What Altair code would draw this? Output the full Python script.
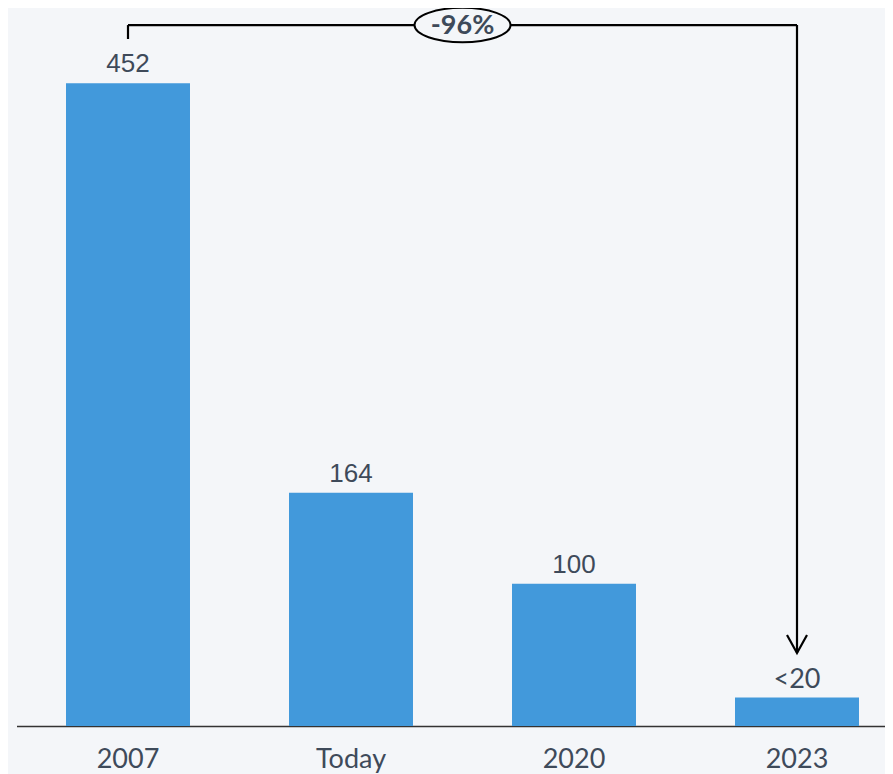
import altair as alt
import pandas as pd

categories = ["2007", "Today", "2020", "2023"]
values = [452, 164, 100, 20]
labels = ["452", "164", "100", "<20"]
label_fonts = ["num", "num", "num", "geo"]

bracket_label = "-96%"
bracket_top = 493.0
bracket_left_end = 483.2
arrow_tip = 51.3

BG = "#f4f6f9"
BAR = "#4299db"
TXT = "#3e4a5a"

df = pd.DataFrame({"cat": categories, "val": values, "lab": labels, "ft": label_fonts})

XR = [0, 892]
xband = alt.X("cat:N", sort=categories,
              scale=alt.Scale(range=XR, paddingInner=0.444, paddingOuter=0.222),
              axis=alt.Axis(title=None, ticks=False, labelAngle=0, labelFont="Lato",
                            labelFontSize=27, labelColor=TXT, labelPadding=20,
                            domainColor="#333333", domainWidth=1.5, grid=False))
yscale = alt.Scale(domain=[0, 505], nice=False, zero=True)
ycode = alt.Y("val:Q", scale=yscale, axis=None)

bars = alt.Chart(df).mark_bar(color=BAR).encode(x=xband, y=ycode)

num_text = alt.Chart(df).transform_filter("datum.ft == 'num'").mark_text(
    font="Liberation Sans", fontSize=26, color=TXT, baseline="alphabetic", dy=-11
).encode(x=alt.X("cat:N", sort=categories), y=ycode, text="lab:N")

geo_text = alt.Chart(df).transform_filter("datum.ft == 'geo'").mark_text(
    font="Lato", fontSize=27, color=TXT, baseline="alphabetic", dy=-10
).encode(x=alt.X("cat:N", sort=categories), y=ycode, text="lab:N")

base = alt.layer(bars, num_text, geo_text)

# annotation layer on a linear position scale (band centres = index)
xl = alt.Scale(domain=[-0.5, 3.5], range=XR, nice=False, zero=False)
n = len(categories) - 1
segs = pd.DataFrame({
    "x": [0, 0, n],
    "x2": [0, n, n],
    "y": [bracket_left_end, bracket_top, bracket_top],
    "y2": [bracket_top, bracket_top, arrow_tip],
})
rules = alt.Chart(segs).mark_rule(color="black", strokeWidth=2.2).encode(
    x=alt.X("x:Q", scale=xl, axis=None), x2="x2:Q",
    y=alt.Y("y:Q", scale=yscale, axis=None), y2="y2:Q")

tip = pd.DataFrame({"x": [n], "y": [arrow_tip]})
arrow = alt.Chart(tip).mark_point(
    shape="M -1 -1.8 L 0 0 L 1 -1.8", filled=False, color="black",
    strokeWidth=2.2, size=400, opacity=1, strokeJoin="miter"
).encode(x=alt.X("x:Q", scale=xl, axis=None), y=alt.Y("y:Q", scale=yscale, axis=None))

mid = pd.DataFrame({"x": [n / 2], "y": [bracket_top], "t": [bracket_label]})
ellipse = alt.Chart(mid).mark_point(
    shape="M -1 0 A 1 0.36 0 1 0 1 0 A 1 0.36 0 1 0 -1 0",
    filled=True, fill=BG, stroke="black", strokeWidth=2, size=9216, opacity=1
).encode(x=alt.X("x:Q", scale=xl, axis=None), y=alt.Y("y:Q", scale=yscale, axis=None))
etext = alt.Chart(mid).mark_text(
    font="Lato", fontWeight="bold", fontSize=27, color=TXT, baseline="middle", dy=1
).encode(x=alt.X("x:Q", scale=xl, axis=None), y=alt.Y("y:Q", scale=yscale, axis=None), text="t:N")

annot = alt.layer(rules, arrow, ellipse, etext)

chart = alt.layer(base, annot).resolve_scale(x="independent").properties(
    width=868, height=718,
    autosize=alt.AutoSizeParams(type="none"),
    padding={"left": 8.5, "top": 0, "right": 0, "bottom": 48},
    background=BG,
).configure_view(stroke=None)

chart.save("out.html", embed_options={"renderer": "svg", "actions": False})
